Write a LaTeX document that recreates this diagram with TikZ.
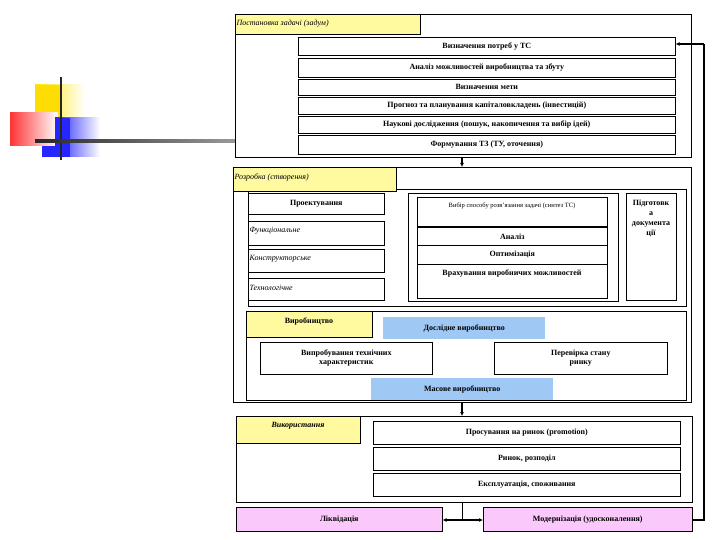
\documentclass[tikz,border=0pt]{standalone}
\usepackage{fontspec}
\setmainfont{Liberation Serif}
\usetikzlibrary{arrows.meta}
\definecolor{ylab}{RGB}{255,250,160}
\definecolor{bluebox}{RGB}{160,200,245}
\definecolor{pinkbox}{RGB}{250,200,250}
\begin{document}
\begin{tikzpicture}[x=1pt,y=-1pt,
  bx/.style={draw,line width=0.6pt,inner sep=0pt},
  t/.style={font=\fontsize{8}{9}\selectfont\bfseries,align=center},
  ti/.style={font=\fontsize{8}{9}\selectfont\itshape},
  arr/.style={line width=1.3pt,-{Latex[length=4pt,width=4pt]}}]
\useasboundingbox (0,0) rectangle (720,540);
% decoration
\shade[left color=yellow!80!orange,right color=white] (35,85) rectangle (85,120);
\fill[yellow!80!orange] (35,85) rectangle (60,120);
\shade[left color=red!80,right color=white] (10,113) rectangle (58,146);
\shade[left color=blue!85,right color=white] (55,118) rectangle (100,157);
\fill[blue!85] (42,146) rectangle (62,157);
\fill[blue!85] (55,118) rectangle (70,157);
\draw[line width=2.5pt,black!85] (61,77) -- (61,160);
\shade[left color=black!85,right color=black!40] (35,139.5) rectangle (235,142.5);
% block 1
\node[bx,minimum width=456,minimum height=143,anchor=north west] (B1) at (235,14) {};
\node[bx,fill=ylab,minimum width=185,minimum height=20,anchor=north west] (L1) at (235,14) {};
\node[ti,anchor=west] at (233,24) {Постановка задачі (задум)};
\foreach \n/\a/\b/\s in {r1/37/55/Визначення потреб у ТС, r2/58/77/Аналіз можливостей виробництва та збуту, r3/79/95/Визначення мети, r4/97/114/Прогноз та планування капіталовкладень (інвестицій), r5/116/133/Наукові дослідження (пошук{,} накопичення та вибір ідей), r6/135/154/Формування ТЗ (ТУ{,} оточення)}
  \node[bx,t,minimum width=377,minimum height={\b-\a},anchor=north west] (\n) at (298,\a) {\s};
% block 2
\node[bx,minimum width=458,minimum height=235,anchor=north west] (B2) at (233,167) {};
\node[bx,minimum width=438,minimum height=117,anchor=north west] (I2) at (248,189) {};
\node[bx,fill=ylab,minimum width=163,minimum height=24,anchor=north west] (L2) at (233,167) {};
\node[ti,anchor=west] at (231,177) {Розробка (створення)};
\node[bx,t,minimum width=136,minimum height=21,anchor=north west] (p1) at (248,193) {Проектування};
\node[bx,minimum width=136,minimum height=24,anchor=north west] (p2) at (248,221) {};
\node[ti,anchor=west] at (246,231) {Функціональне};
\node[bx,minimum width=136,minimum height=23,anchor=north west] (p3) at (248,249) {};
\node[ti,anchor=west] at (246,259) {Конструкторське};
\node[bx,minimum width=136,minimum height=22,anchor=north west] (p4) at (248,278) {};
\node[ti,anchor=west] at (246,288) {Технологічне};
\node[bx,minimum width=210,minimum height=108,anchor=north west] (m0) at (408,193) {};
\node[bx,minimum width=190,minimum height=30,anchor=north west] (m1) at (417,197) {};
\node[font=\fontsize{6.5}{8}\selectfont] at (512,206) {Вибір способу розв'язання задачі (синтез ТС)};
\node[bx,t,minimum width=190,minimum height=18,anchor=north west] (m2) at (417,227) {Аналіз};
\node[bx,t,minimum width=190,minimum height=19,anchor=north west] (m3) at (417,245) {Оптимізація};
\node[bx,minimum width=190,minimum height=34,anchor=north west] (m4) at (417,264) {};
\node[t] at (512,273) {Врахування виробничих можливостей};
\draw[line width=1.2pt] (417,227) -- (607,227);
\node[bx,minimum width=50,minimum height=107,anchor=north west] (pd) at (626,193) {};
\node[t,font=\fontsize{8}{10}\selectfont\bfseries,anchor=north] at (651,196) {Підготовк\\а\\документа\\ції};
% production
\node[bx,minimum width=440,minimum height=89,anchor=north west] (V) at (246,311) {};
\node[bx,fill=ylab,minimum width=126,minimum height=26,anchor=north west] (LV) at (246,311) {};
\node[t] at (309,321) {Виробництво};
\node[fill=bluebox,t,minimum width=162,minimum height=22,anchor=north west] (d1) at (383,317) {Дослідне виробництво};
\node[bx,t,minimum width=172,minimum height=32,anchor=north west] (v1) at (260,342) {Випробування технічних\\характеристик};
\node[bx,t,minimum width=173,minimum height=32,anchor=north west] (v2) at (494,342) {Перевірка стану\\ринку};
\node[fill=bluebox,t,minimum width=182,minimum height=22,anchor=north west] (d2) at (371,378) {Масове виробництво};
% block 3
\node[bx,minimum width=456,minimum height=86,anchor=north west] (B3) at (236,416) {};
\node[bx,fill=ylab,minimum width=124,minimum height=27,anchor=north west] (L3) at (236,416) {};
\node[ti,font=\fontsize{8}{9}\selectfont\bfseries\itshape] at (298,426) {Використання};
\node[bx,t,minimum width=307,minimum height=23,anchor=north west] (u1) at (373,421) {Просування на ринок (promotion)};
\node[bx,t,minimum width=307,minimum height=23,anchor=north west] (u2) at (373,447) {Ринок, розподіл};
\node[bx,t,minimum width=307,minimum height=23,anchor=north west] (u3) at (373,473) {Експлуатація, споживання};
% bottom
\node[bx,fill=pinkbox,t,minimum width=206,minimum height=24,anchor=north west] (lq) at (236,507) {Ліквідація};
\node[bx,fill=pinkbox,t,minimum width=209,minimum height=24,anchor=north west] (md) at (483,507) {Модернізація (удосконалення)};
% connectors
\draw[arr] (B1.south -| 462,0) -- (B2.north -| 462,0);
\draw[arr] (B2.south -| 462,0) -- (B3.north -| 462,0);
\coordinate (j) at (462,520);
\coordinate (c1) at (704,520);
\coordinate (c2) at (704,44);
\draw[line width=0.8pt] (B3.south -| j) -- (j);
\draw[arr] (j) -- (lq.east |- j);
\draw[arr] (j) -- (md.west |- j);
\draw[line width=1.3pt] (md.east |- c1) -- (c1) -- (c2);
\draw[arr] (c2) -- (r1.east |- c2);
\end{tikzpicture}
\end{document}
